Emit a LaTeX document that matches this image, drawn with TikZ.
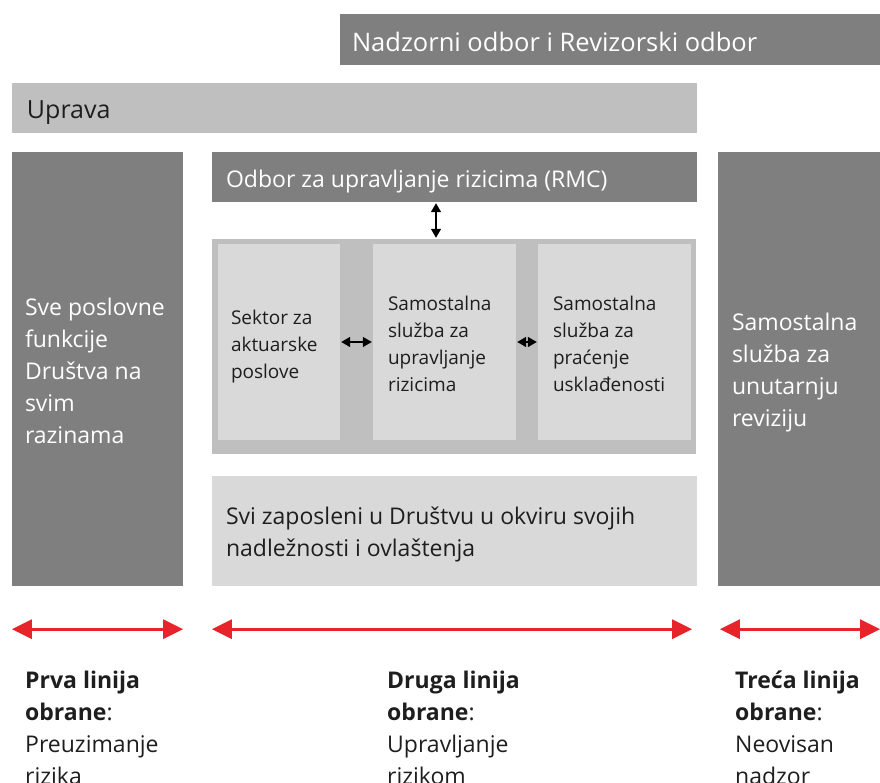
\documentclass[tikz,border=0pt]{standalone}
\usepackage{fontspec}
\setmainfont{Open Sans}
\usetikzlibrary{positioning,arrows.meta}
\definecolor{darkgrey}{HTML}{7F7F7F}
\definecolor{midgrey}{HTML}{BFBFBF}
\definecolor{lightgrey}{HTML}{D9D9D9}
\definecolor{linered}{HTML}{E8242B}
\definecolor{textdark}{HTML}{1E1E1E}
\tikzset{>=latex}
\tikzstyle{box}      = [rectangle,
                        inner sep=0pt,
                        draw=none]
\tikzstyle{darkbox}  = [box, fill=darkgrey]
\tikzstyle{midbox}   = [box, fill=midgrey]
\tikzstyle{lightbox} = [box, fill=lightgrey]
\tikzstyle{whitetxt} = [inner sep=0pt,
                        align=left,
                        text=white,
                        font=\fontsize{23}{32}\selectfont]
\tikzstyle{darktxt}  = [whitetxt, text=textdark]
\tikzstyle{smalltxt} = [darktxt,
                        font=\fontsize{19}{27}\selectfont]
\tikzstyle{arrow}    = [{Triangle[length=9pt,width=10pt]}-{Triangle[length=9pt,width=10pt]},
                        line width=1.5pt,
                        shorten <=1pt,
                        shorten >=1pt]
\tikzstyle{linearrow} = [{Triangle[length=20pt,width=19pt]}-{Triangle[length=20pt,width=19pt]},
                         line width=3pt,
                         draw=linered]

\begin{document}
\begin{tikzpicture}[x=1pt,y=-1pt]

  \useasboundingbox (0,0) rectangle (880,783);

  % Nodes
  \node[darkbox, minimum width=540, minimum height=51] (nadzor) at (610,39.5) {};
  \node[whitetxt, font=\fontsize{25.5}{32}\selectfont, right=12pt of nadzor.west, yshift=-2pt] (nadzortxt) {Nadzorni odbor i Revizorski odbor};

  \node[midbox, minimum width=685, minimum height=50] (uprava) at (354.5,108) {};
  \node[darktxt, font=\fontsize{25}{32}\selectfont, right=15pt of uprava.west, yshift=-5pt] (upravatxt) {Uprava};

  \node[darkbox, minimum width=171, minimum height=434] (prva) at (97.5,369) {};
  \node[whitetxt, right=13pt of prva.west, yshift=-2pt] (prvatxt) {Sve poslovne\\funkcije\\Društva na\\svim\\razinama};

  \node[darkbox, minimum width=485, minimum height=50] (rmc) at (454.5,177) {};
  \node[whitetxt, right=14pt of rmc.west, yshift=-5pt] (rmctxt) {Odbor za upravljanje rizicima (RMC)};

  \node[midbox, minimum width=484, minimum height=215] (druga) at (454,346.5) {};
  \node[lightbox, minimum width=122, minimum height=196] (aktuar) at (279,342) {};
  \node[lightbox, minimum width=143, minimum height=196] (rizik) at (444.5,342) {};
  \node[lightbox, minimum width=153, minimum height=196] (uskl) at (614.5,342) {};
  \node[smalltxt, right=13pt of aktuar.west, yshift=-5pt] (aktuartxt) {Sektor za\\aktuarske\\poslove};
  \node[smalltxt, right=15pt of rizik.west, yshift=-2pt] (riziktxt) {Samostalna\\služba za\\upravljanje\\rizicima};
  \node[smalltxt, right=15pt of uskl.west, yshift=-2pt] (uskltxt) {Samostalna\\služba za\\praćenje\\usklađenosti};

  \node[lightbox, minimum width=485, minimum height=110] (svi) at (454.5,531) {};
  \node[darktxt, right=14pt of svi.west, yshift=-3pt] (svitxt) {Svi zaposleni u Društvu u okviru svojih\\nadležnosti i ovlaštenja};

  \node[darkbox, minimum width=162, minimum height=434] (treca) at (799,369) {};
  \node[whitetxt, right=14pt of treca.west, yshift=-4pt] (trecatxt) {Samostalna\\služba za\\unutarnju\\reviziju};

  % Line labels
  \node[darktxt, anchor=north west] (lab1) at (25,671) {\textbf{Prva linija}\\\textbf{obrane}:\\Preuzimanje\\rizika};
  \node[darktxt, anchor=north west] (lab2) at (387,671) {\textbf{Druga linija}\\\textbf{obrane}:\\Upravljanje\\rizikom};
  \node[darktxt, anchor=north west] (lab3) at (735,671) {\textbf{Treća linija}\\\textbf{obrane}:\\Neovisan\\nadzor};

  % Edges
  \draw[arrow] (rmc.south -| 436,0) -- (druga.north -| 436,0);
  \draw[arrow] (aktuar.east) -- (rizik.west);
  \draw[arrow] (rizik.east) -- (uskl.west);

  % Lines of defence
  \draw[linearrow] ([yshift=-43pt]prva.south west) -- ([yshift=-43pt]prva.south east);
  \draw[linearrow] ([yshift=-43pt]svi.south west) -- ([yshift=-43pt,xshift=-5pt]svi.south east);
  \draw[linearrow] ([yshift=-43pt,xshift=2pt]treca.south west) -- ([yshift=-43pt]treca.south east);

\end{tikzpicture}
\end{document}
